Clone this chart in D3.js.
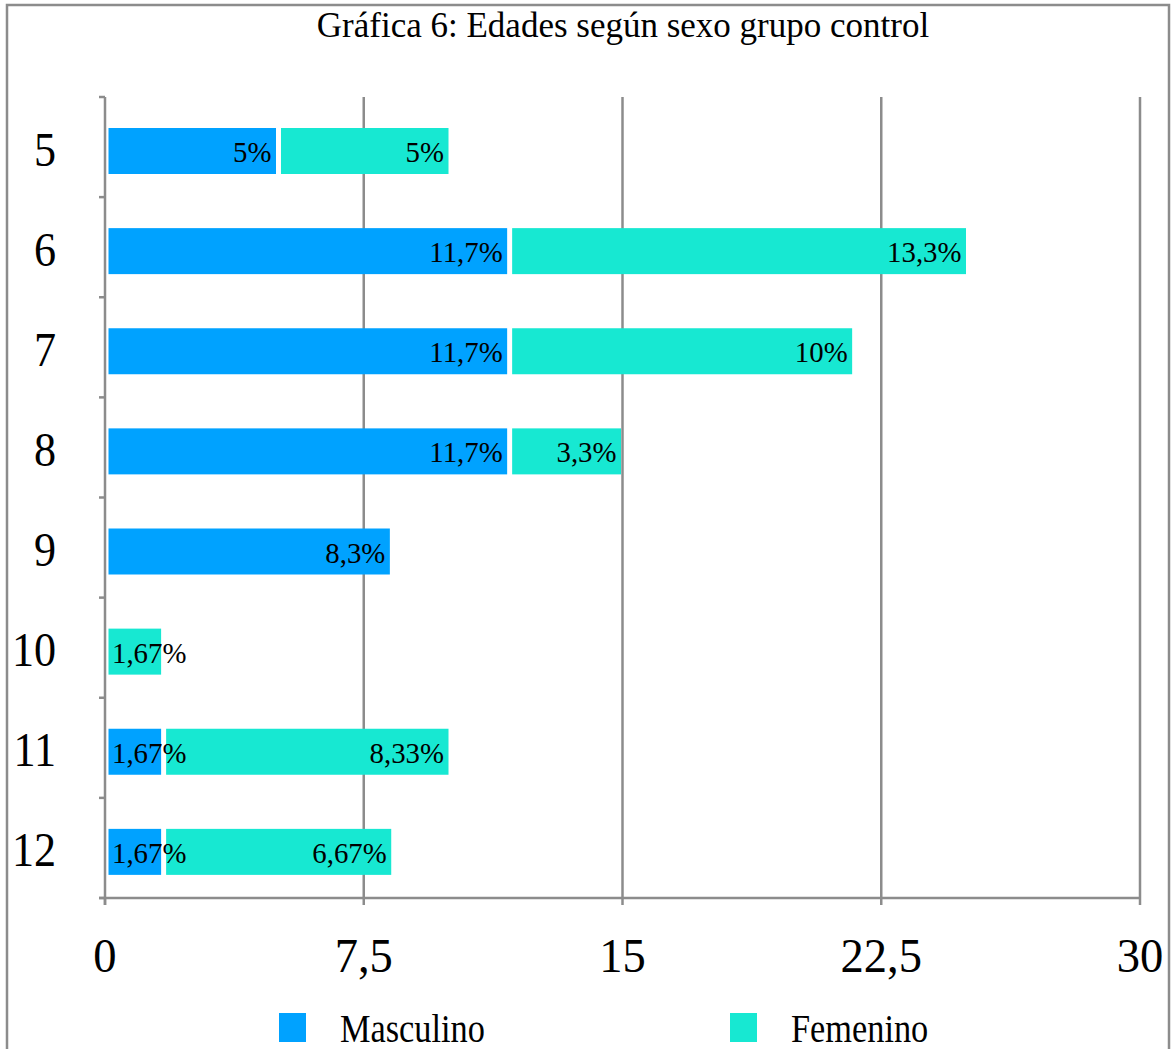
<!DOCTYPE html>
<html><head><meta charset="utf-8">
<script src="https://cdn.jsdelivr.net/npm/d3@7"></script>
<style>html,body{margin:0;padding:0;background:#fff;}svg{display:block;}</style>
</head><body>
<script>
const title = "Gráfica 6: Edades según sexo grupo control";
const categories = ["5","6","7","8","9","10","11","12"];
const seriesNames = ["Masculino","Femenino"];
const masculino = [5, 11.7, 11.7, 11.7, 8.3, 0, 1.67, 1.67];
const femenino  = [5, 13.3, 10, 3.3, 0, 1.67, 8.33, 6.67];
const masculinoLabels = ["5%","11,7%","11,7%","11,7%","8,3%","","1,67%","1,67%"];
const femeninoLabels  = ["5%","13,3%","10%","3,3%","","1,67%","8,33%","6,67%"];
const xTicks = [0, 7.5, 15, 22.5, 30];
const xTickLabels = ["0","7,5","15","22,5","30"];
const colors = ["#00A2FF","#17E8D2"];

const W = 1174, H = 1049;
const FONT = "'Liberation Serif','Times New Roman',serif";
const AX = "#8c8c8c";
const svg = d3.select("body").append("svg").attr("width", W).attr("height", H);

function squeeze(sel, f){
  sel.each(function(){
    const w = this.getComputedTextLength();
    if (w > 0) d3.select(this).attr("textLength", w*f).attr("lengthAdjust","spacingAndGlyphs");
  });
}

// outer border
svg.append("rect").attr("x",7).attr("y",5).attr("width",1162).attr("height",1100)
  .attr("fill","#fff").attr("stroke",AX).attr("stroke-width",2.5);

// title
svg.append("text").attr("x",623).attr("y",37).attr("text-anchor","middle")
  .attr("font-family",FONT).attr("font-size",35).attr("fill","#000").text(title);

const x = d3.scaleLinear().domain([0,30]).range([105,1140]);
const y = d3.scaleBand().domain(categories).range([97,898]).padding(0);
const bw = y.bandwidth();
const barTop = 31, barH = 46;

// gridlines
svg.append("g").selectAll("line").data(xTicks.filter(d=>d>0)).join("line")
  .attr("x1",d=>x(d)).attr("x2",d=>x(d)).attr("y1",97).attr("y2",898)
  .attr("stroke",AX).attr("stroke-width",2.5);

// y axis
const yAxis = svg.append("g");
yAxis.append("line").attr("x1",x(0)).attr("x2",x(0)).attr("y1",97).attr("y2",905)
  .attr("stroke",AX).attr("stroke-width",2.5);
const bounds = categories.map(c=>y(c)).concat([898]);
yAxis.selectAll("line.t").data(bounds).join("line").attr("class","t")
  .attr("x1",99).attr("x2",x(0)).attr("y1",d=>d).attr("y2",d=>d)
  .attr("stroke",AX).attr("stroke-width",2.5);
const yl = yAxis.selectAll("text").data(categories).join("text")
  .attr("x",56).attr("y",d=>y(d)+bw/2+18.5).attr("text-anchor","end")
  .attr("font-family",FONT).attr("font-size",49).attr("fill","#000").text(d=>d);
squeeze(yl, 0.9);

// x axis
const xAxis = svg.append("g");
xAxis.append("line").attr("x1",99).attr("x2",x(30)).attr("y1",898).attr("y2",898)
  .attr("stroke",AX).attr("stroke-width",2.5);
xAxis.selectAll("line.t").data(xTicks).join("line").attr("class","t")
  .attr("x1",d=>x(d)).attr("x2",d=>x(d)).attr("y1",898).attr("y2",905)
  .attr("stroke",AX).attr("stroke-width",2.5);
const xl = xAxis.selectAll("text").data(xTicks).join("text")
  .attr("x",d=>x(d)).attr("y",972).attr("text-anchor","middle")
  .attr("font-family",FONT).attr("font-size",49).attr("fill","#000").text((d,i)=>xTickLabels[i]);
squeeze(xl, 0.95);

// stacked bars
const rows = categories.map((c,i)=>({cat:c, m:masculino[i], f:femenino[i], ml:masculinoLabels[i], fl:femeninoLabels[i]}));
const segs = [];
rows.forEach(r=>{
  if (r.m>0) segs.push({cat:r.cat, s:0, e:r.m, color:colors[0], label:r.ml});
  if (r.f>0) segs.push({cat:r.cat, s:r.m, e:r.m+r.f, color:colors[1], label:r.fl});
});
const bars = svg.append("g");
bars.selectAll("rect").data(segs).join("rect")
  .attr("x",d=>x(d.s)+3.5).attr("width",d=>x(d.e)-x(d.s)-5)
  .attr("y",d=>y(d.cat)+barTop).attr("height",barH)
  .attr("fill",d=>d.color);

const labels = bars.selectAll("text").data(segs).join("text")
  .attr("font-family",FONT).attr("font-size",30).attr("fill","#000")
  .attr("y",d=>y(d.cat)+barTop+barH/2+11)
  .text(d=>d.label);
squeeze(labels, 0.96);
labels.each(function(d){
  const w = +d3.select(this).attr("textLength");
  const segW = x(d.e)-x(d.s)-5;
  if (w + 10 > segW) {
    d3.select(this).attr("x", x(d.s)+7).attr("text-anchor","start");
  } else {
    d3.select(this).attr("x", x(d.e)-6).attr("text-anchor","end");
  }
});

// legend
const legX = [279, 730];
const leg = svg.append("g").selectAll("g").data(seriesNames).join("g");
leg.append("rect").attr("x",(d,i)=>legX[i]).attr("y",1013).attr("width",27).attr("height",29)
  .attr("fill",(d,i)=>colors[i]);
const lt = leg.append("text").attr("x",(d,i)=>legX[i]+61).attr("y",1042)
  .attr("font-family",FONT).attr("font-size",39).attr("fill","#000").text(d=>d);
squeeze(lt, 0.88);
</script>
</body></html>
